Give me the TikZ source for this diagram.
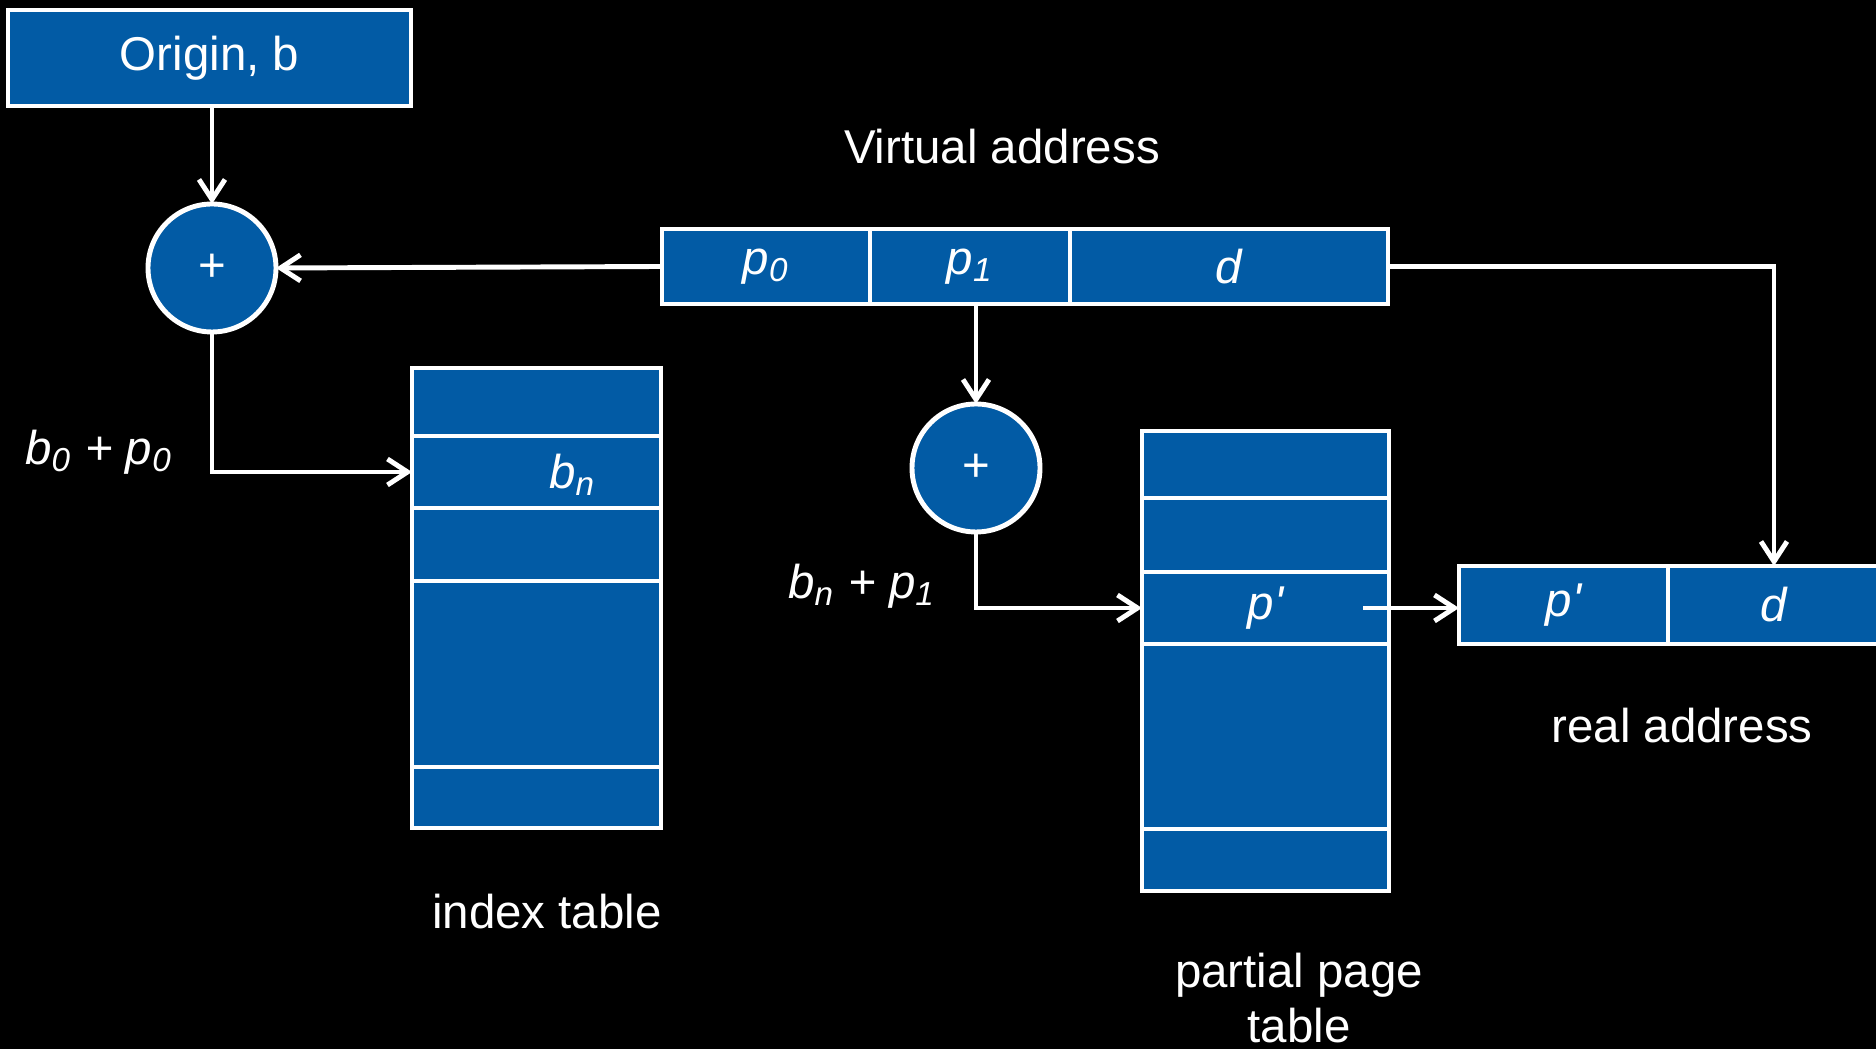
\documentclass[tikz,border=0pt]{standalone}
\usepackage{fontspec}
\setmainfont{Liberation Sans}
\usetikzlibrary{positioning,arrows.meta}
\definecolor{addrblue}{RGB}{2,91,165}

\begin{document}
\begin{tikzpicture}[
    >={Straight Barb[length=2mm,width=2.6mm]},
    every node/.style={text=white, font=\fontsize{13.5}{16}\selectfont},
    box/.style={draw=white, fill=addrblue, line width=1.4pt, inner sep=0pt, outer sep=0pt},
    adder/.style={box, circle, minimum size=1.28cm},
    wire/.style={white, line width=1.4pt, ->},
  ]
        % Seite und Hintergrund
        \useasboundingbox (0,0) rectangle (18.76,-10.49);
        \clip (0,0) rectangle (18.76,-10.49);
        \fill[black] (0,0) rectangle (18.76,-10.49);

        % Ursprung und Addierer
        \node[box, minimum width=4.03cm, minimum height=0.96cm] (origin) at (2.095,-0.58) {Origin, b};
        \node[adder] (sum0) at (2.12,-2.68) {+};
        \node[adder] (sum1) at (9.76,-4.68) {+};

        % Virtuelle Adresse
        \node[box, minimum width=2.08cm, minimum height=0.75cm, anchor=west] (p0) at (6.62,-2.665) {\itshape p\textsubscript{0}};
        \node[box, minimum width=2.00cm, minimum height=0.75cm, right=0pt of p0] (p1) {\itshape p\textsubscript{1}};
        \node[box, minimum width=3.18cm, minimum height=0.75cm, right=0pt of p1] (d) {\itshape d};
        \node (vlabel) at (10.02,-1.47) {Virtual address};

        % Indextabelle
        \node[box, minimum width=2.49cm, minimum height=0.68cm, anchor=north] (ix1) at (5.365,-3.68) {};
        \node[box, minimum width=2.49cm, minimum height=0.72cm, below=0pt of ix1] (ix2) {};
        \node[box, minimum width=2.49cm, minimum height=0.73cm, below=0pt of ix2] (ix3) {};
        \node[box, minimum width=2.49cm, minimum height=1.86cm, below=0pt of ix3] (ix4) {};
        \node[box, minimum width=2.49cm, minimum height=0.61cm, below=0pt of ix4] (ix5) {};
        \node (bn) at ([xshift=0.36cm,yshift=-0.03cm]ix2.center) {\itshape b\textsubscript{n}};
        \node (ixlabel) at (5.47,-9.12) {index table};

        % Teilweise Seitentabelle
        \node[box, minimum width=2.47cm, minimum height=0.67cm, anchor=north] (pg1) at (12.655,-4.31) {};
        \node[box, minimum width=2.47cm, minimum height=0.74cm, below=0pt of pg1] (pg2) {};
        \node[box, minimum width=2.47cm, minimum height=0.72cm, below=0pt of pg2] (pg3) {\itshape p\textquotesingle};
        \node[box, minimum width=2.47cm, minimum height=1.85cm, below=0pt of pg3] (pg4) {};
        \node[box, minimum width=2.47cm, minimum height=0.62cm, below=0pt of pg4] (pg5) {};
        \node[align=center] (pglabel) at (12.99,-9.98) {partial page\\[-0.5pt]table};

        % Reale Adresse
        \node[box, minimum width=2.09cm, minimum height=0.78cm, anchor=west] (rp) at (14.59,-6.05) {\itshape p\textquotesingle};
        \node[box, minimum width=2.12cm, minimum height=0.78cm, right=0pt of rp] (rd) {\itshape d};
        \node (ralabel) at (16.82,-7.26) {real address};

        % Summen
        \node (sumlab0) at (0.99,-4.52) {\itshape b\textsubscript{0} + p\textsubscript{0}};
        \node (sumlab1) at (8.62,-5.86) {\itshape b\textsubscript{n} + p\textsubscript{1}};

        % Pfeile
        \coordinate (pout) at ([xshift=-0.26cm]pg3.east);
        \draw[wire] (origin.south -| sum0.north) -- (sum0.north);
        \draw[wire] (p0.west) -- (sum0.east);
        \draw[wire] (sum0.south) |- (ix2.west);
        \draw[wire] (p1.south -| sum1.north) -- (sum1.north);
        \draw[wire] (sum1.south) |- (pg3.west);
        \draw[wire] (pout) -- (pout -| rp.west);
        \draw[wire] (d.east) -| (rd.north);
      \end{tikzpicture}
\end{document}
